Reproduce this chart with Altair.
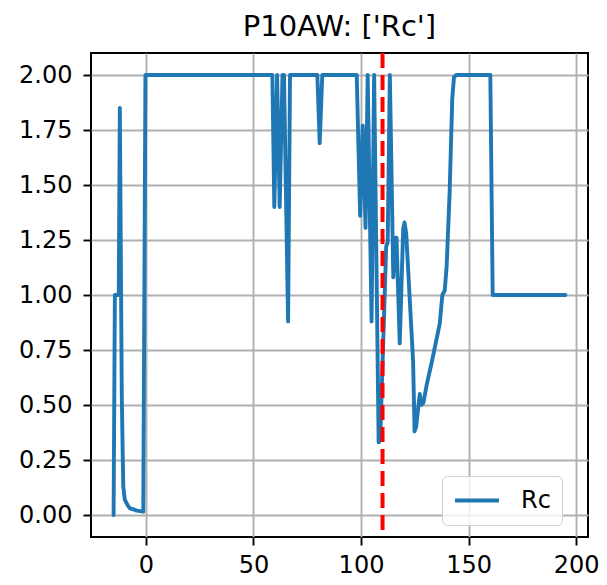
import altair as alt
import pandas as pd

# Series "Rc"
xs = [-15, -14.4, -12.6, -12.1, -11.2, -10.8, -10.5, -9.8, -8.5, -7.4, -5.5, -4.3, -1.2, -0.2,
      58.8, 59.7, 61.0, 62.2, 63.5, 64.2, 66.1, 67.0, 79.7, 80.8, 82.0,
      98.0, 99.6, 100.8, 102.1, 103.1, 104.9, 106.1, 108.2, 108.9, 111.7, 112.4, 113.4,
      115.0, 116.0, 116.5, 118.0, 119.6, 120.2, 121.0, 124.2, 124.9, 125.6, 127.3, 128.0,
      129.0, 130.5, 133.0, 136.6, 137.8, 138.9, 139.8, 141.2, 142.4, 143.2, 144.3,
      160.1, 161.2, 195.0]
ys = [0.0, 1.0, 1.0, 1.85, 0.55, 0.3, 0.13, 0.07, 0.045, 0.03, 0.025, 0.02, 0.015, 2.0,
      2.0, 1.40, 2.0, 1.40, 2.0, 2.0, 0.88, 2.0, 2.0, 1.69, 2.0,
      2.0, 1.36, 1.77, 1.305, 2.0, 0.88, 2.0, 0.33, 0.34, 1.22, 1.24, 2.0,
      1.08, 1.26, 1.26, 0.78, 1.30, 1.33, 1.28, 0.70, 0.38, 0.40, 0.55, 0.50,
      0.51, 0.59, 0.70, 0.87, 1.0, 1.02, 1.13, 1.47, 1.89, 1.99, 2.0,
      2.0, 1.0, 1.0]
series_name = ["Rc"]
vline_x = [110]
x_ticks = [0, 50, 100, 150, 200]
y_ticks = [0.0, 0.25, 0.5, 0.75, 1.0, 1.25, 1.5, 1.75, 2.0]

df = pd.DataFrame({"x": xs, "y": ys, "series": series_name * len(xs), "order": list(range(len(xs)))})
vdf = pd.DataFrame({"x": vline_x})

FONT = "DejaVu Sans"

xscale = alt.Scale(domain=[-25.5, 205.5], nice=False, zero=False)
yscale = alt.Scale(domain=[-0.1, 2.1], nice=False, zero=False)

line = alt.Chart(df).mark_line(strokeWidth=3.9, strokeJoin="round", strokeCap="round").encode(
    x=alt.X("x:Q", scale=xscale, axis=alt.Axis(values=x_ticks, title=None)),
    y=alt.Y("y:Q", scale=yscale, axis=alt.Axis(values=y_ticks, format=".2f", title=None)),
    order="order:Q",
    color=alt.Color("series:N", scale=alt.Scale(domain=series_name, range=["#1f77b4"]),
                    legend=alt.Legend(title=None, orient="none", legendX=351, legendY=423,
                                      symbolType="stroke", symbolSize=1936, symbolStrokeWidth=3.9,
                                      labelFontSize=24, labelFont=FONT, labelColor="black",
                                      labelOffset=20, padding=11, clipHeight=27,
                                      strokeColor="#d0d0d0",
                                      fillColor="rgba(255,255,255,0.8)", cornerRadius=5)),
)

vline = alt.Chart(vdf).mark_rule(color="red", strokeWidth=4, strokeDash=[15, 7]).encode(
    x=alt.X("x:Q", scale=xscale)
)

chart = alt.layer(line, vline).properties(
    width=497, height=484,
    title=alt.TitleParams("P10AW: ['Rc']", fontSize=29, font=FONT, fontWeight="normal",
                          anchor="middle", color="black", offset=9),
    autosize=alt.AutoSizeParams(type="none"),
    padding={"left": 83, "top": 45, "right": 11, "bottom": 40},
).configure_view(
    stroke="black", strokeWidth=2
).configure_axis(
    grid=True, gridColor="#b0b0b0", gridWidth=1.9, domain=False,
    ticks=True, tickSize=8, tickWidth=1.9, tickColor="black",
    labelFont=FONT, labelFontSize=24, labelColor="black",
).configure_axisX(
    labelPadding=8
).configure_axisY(
    labelPadding=11
)

chart.save("out.html", embed_options={"renderer": "svg", "actions": False})
